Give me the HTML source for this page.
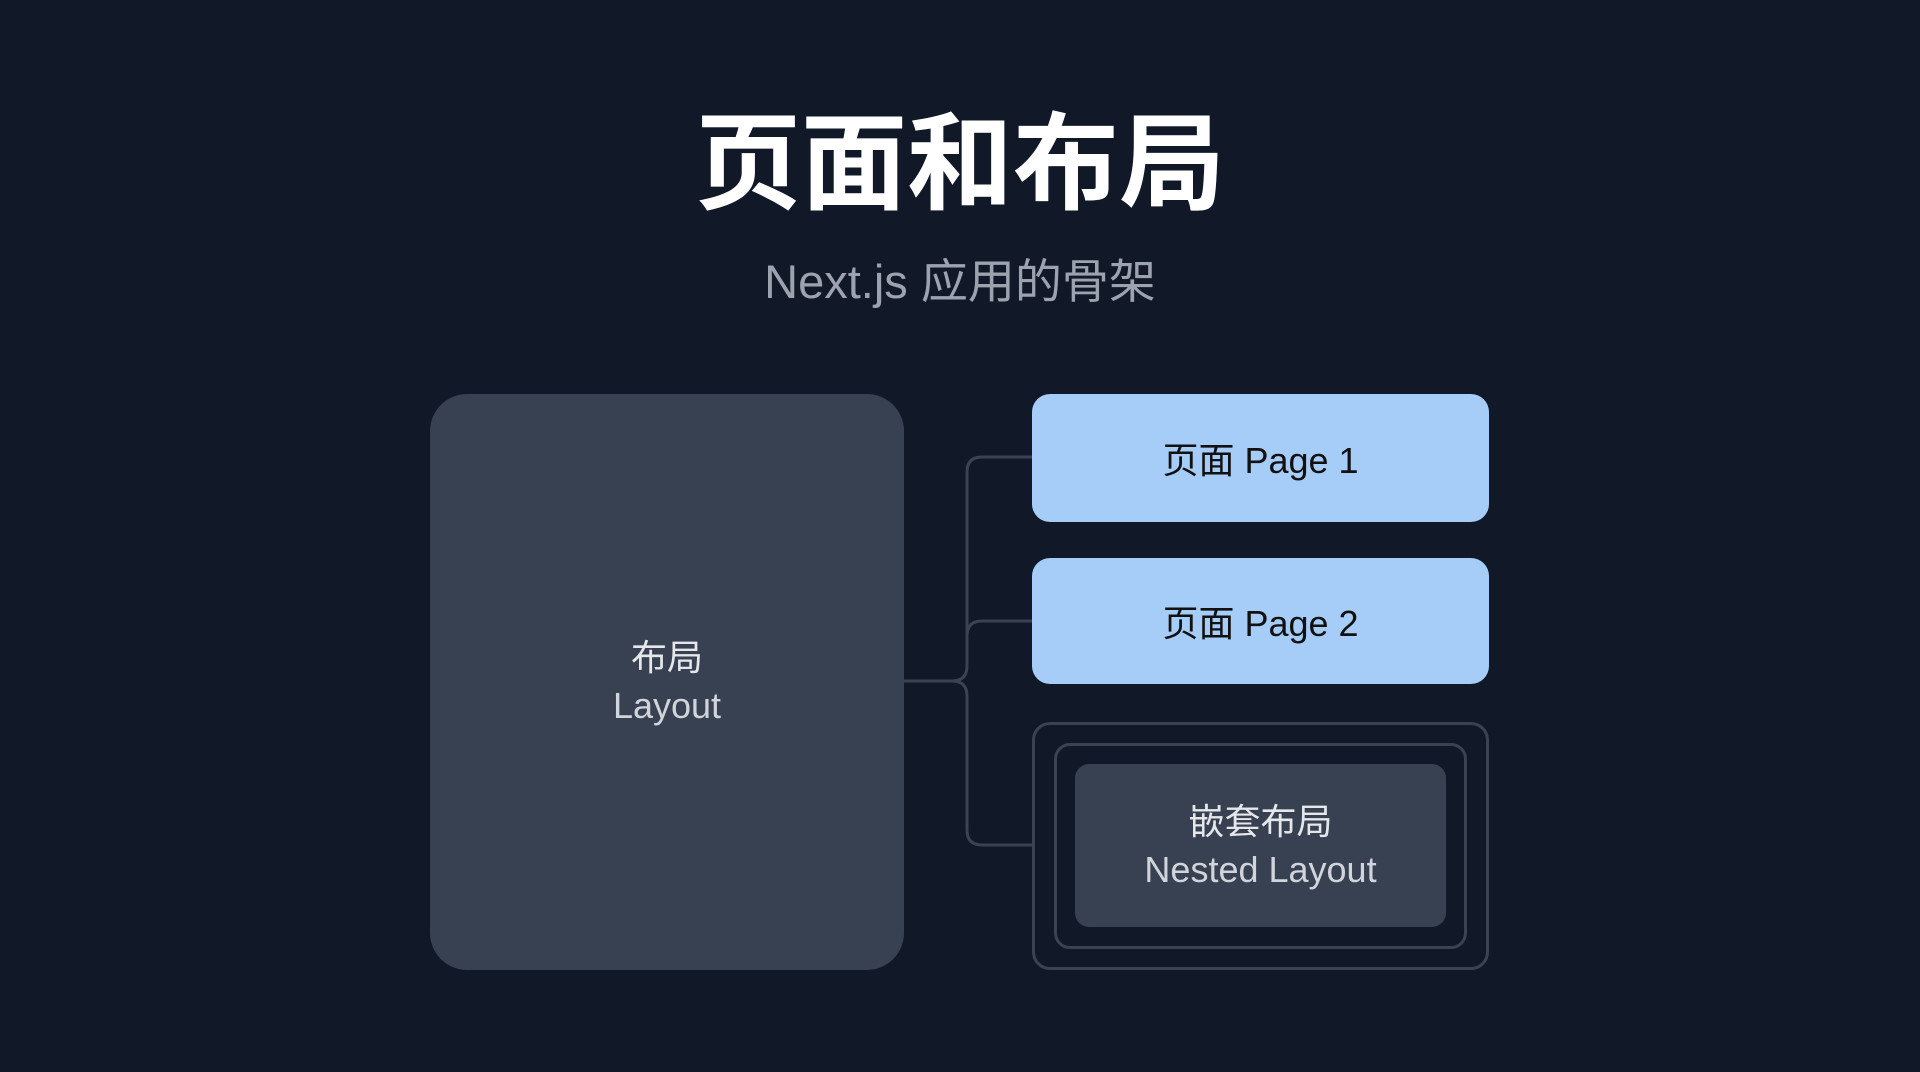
<!DOCTYPE html>
<html><head><meta charset="utf-8"><style>
html,body{margin:0;padding:0}
body{width:1920px;height:1072px;background:#111827;position:relative;overflow:hidden;font-family:"Liberation Sans","Noto Sans CJK SC",sans-serif}
.a{position:absolute;box-sizing:border-box}
.t{position:absolute;left:0;width:1920px;text-align:center}
.c{display:flex;flex-direction:column;align-items:center;justify-content:center;text-align:center}
</style></head><body>
<div class="t" style="top:100px;font-size:106px;font-weight:bold;color:#fff;line-height:130px">页面和布局</div>
<div class="t" style="top:252px;font-size:47px;color:#9ca3af;line-height:60px">Next.js 应用的骨架</div>
<div class="a c" style="left:430px;top:394px;width:474px;height:576px;background:#374151;border-radius:37px;color:#e5e7eb;font-size:36px;line-height:48px"><div>布局</div><div style="color:#d1d5db">Layout</div></div>
<svg class="a" style="left:0;top:0" width="1920" height="1072">
<path d="M904 681 H952 Q967 681 967 666 V472 Q967 457 982 457 H1032 M967 636 Q967 621 982 621 H1032 M952 681 Q967 681 967 696 V830 Q967 845 982 845 H1032" fill="none" stroke="#3b4252" stroke-width="3"/>
</svg>
<div class="a c" style="left:1032px;top:394px;width:457px;height:128px;background:#a5cdf8;border-radius:18px;color:#111;font-size:36px">页面 Page 1</div>
<div class="a c" style="left:1032px;top:558px;width:457px;height:126px;background:#a5cdf8;border-radius:18px;color:#111;font-size:36px">页面 Page 2</div>
<div class="a" style="left:1032px;top:722px;width:457px;height:248px;border:3px solid #3b4252;border-radius:18px"></div>
<div class="a" style="left:1054px;top:743px;width:413px;height:206px;border:3px solid #3b4252;border-radius:16px"></div>
<div class="a c" style="left:1075px;top:764px;width:371px;height:163px;background:#374151;border-radius:14px;color:#e5e7eb;font-size:36px;line-height:48px"><div>嵌套布局</div><div style="color:#d1d5db">Nested Layout</div></div>
</body></html>
